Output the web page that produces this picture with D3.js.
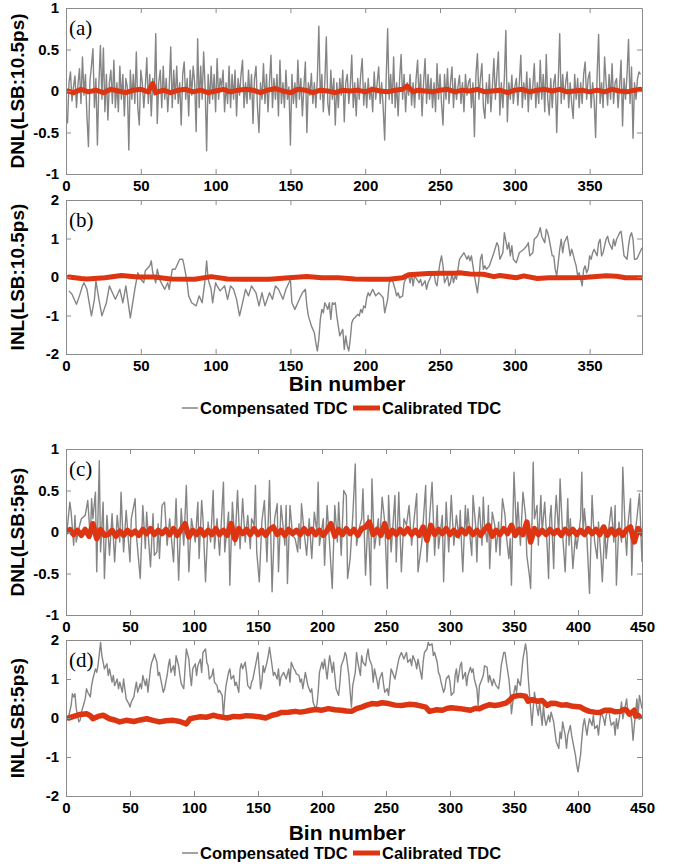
<!DOCTYPE html>
<html>
<head>
<meta charset="utf-8">
<script src="https://cdn.jsdelivr.net/npm/d3@7"></script>
<style>
  body { margin: 0; background: #fff; }
  svg text { font-family: "Liberation Sans", Arial, sans-serif; font-weight: bold; fill: #000; }
</style>
</head>
<body>
<div class="chart"></div>
<script>
// ---- data ----
// x ticks
const ticks385 = [0, 50, 100, 150, 200, 250, 300, 350];
const ticks450 = [0, 50, 100, 150, 200, 250, 300, 350, 400, 450];
const dnlTicks = [-1, -0.5, 0, 0.5, 1];
const inlTicks = [-2, -1, 0, 1, 2];
const seriesNames = ["Compensated TDC", "Calibrated TDC"];

// (a) DNL, 10.5 ps LSB, compensated TDC, one value per bin (bins 1..384)
const dnlA_comp = [-0.39,0.1,0.23,-0.12,0.05,0.18,-0.2,0.08,0.27,-0.15,
0.41,-0.05,0.2,-0.3,-0.67,0.12,0.3,0.51,-0.2,0.15,
-0.65,0.1,0.55,-0.1,0.52,-0.25,0.2,-0.35,0.1,0.25,
-0.15,0.37,-0.2,0.1,-0.25,0.3,-0.1,0.2,-0.3,0.15,
0.05,-0.71,0.25,-0.1,0.2,-0.15,0.47,-0.2,-0.41,0.25,
0.1,-0.2,0.05,0.4,-0.15,0.2,-0.3,0.15,-0.05,0.69,
-0.39,0.1,0.25,-0.2,0.3,-0.1,0.15,-0.25,0.05,0.53,
-0.2,0.25,-0.1,0.3,-0.15,0.1,-0.41,0.2,0.35,-0.1,
0.15,-0.3,0.25,-0.05,0.3,0.1,-0.49,0.63,-0.2,0.3,
-0.1,0.47,0.05,-0.72,0.2,-0.15,0.3,-0.1,0.2,-0.25,
0.39,-0.1,0.15,0.05,0.25,-0.25,0.1,-0.15,0.3,-0.2,
0.2,-0.1,0.25,-0.3,0.15,-0.05,0.2,0.37,-0.2,0.1,
-0.15,0.25,-0.1,0.2,-0.39,0.15,0.3,-0.2,-0.5,0.1,
-0.1,0.33,-0.15,0.2,-0.25,0.1,0.43,-0.2,0.15,-0.1,
0.2,-0.3,0.37,-0.15,0.1,-0.2,0.25,-0.1,0.05,-0.65,
0.2,-0.15,0.1,-0.2,0.37,-0.1,0.15,-0.3,0.05,0.35,
-0.5,0.1,-0.05,0.21,-0.15,0.1,-0.2,0.15,0.78,-0.1,
0.2,-0.25,0.1,0.65,-0.15,-0.29,0.25,-0.1,0.15,-0.41,
0.1,-0.2,0.15,-0.05,0.25,-0.37,0.1,0.2,-0.15,0.05,
0.43,-0.2,0.1,-0.3,0.15,-0.1,0.2,0.39,-0.17,0.1,
-0.2,0.15,-0.1,0.05,-0.25,0.23,-0.1,0.1,0.29,-0.15,
0.1,-0.2,-0.59,0.15,0.75,-0.1,0.2,-0.15,0.41,-0.2,
0.1,-0.3,0.15,0.44,-0.1,0.2,-0.25,0.1,-0.05,0.2,
-0.17,0.1,-0.2,0.15,0.37,-0.1,0.2,-0.3,0.1,0.39,
-0.15,0.2,-0.1,0.15,-0.2,0.1,-0.25,0.33,-0.1,0.2,
-0.15,-0.41,0.2,-0.1,0.27,-0.15,0.1,0.29,-0.2,0.15,
-0.1,0.05,0.19,-0.15,0.1,-0.25,0.2,-0.05,0.1,0.15,
-0.2,0.1,-0.55,0.2,0.45,-0.1,0.15,0.33,-0.2,-0.33,
0.1,-0.15,0.2,-0.25,0.05,0.39,-0.1,0.2,0.47,-0.29,
0.1,-0.2,0.15,0.73,-0.37,0.1,-0.1,0.19,-0.15,0.05,
0.15,-0.17,0.1,0.43,-0.2,0.1,-0.1,0.23,-0.25,0.15,
-0.1,0.05,0.33,-0.2,0.1,-0.15,0.37,-0.1,0.2,-0.25,
0.44,-0.1,-0.29,0.15,-0.2,0.1,0.2,-0.5,0.1,0.69,
-0.15,0.2,-0.1,0.1,0.23,-0.2,0.1,-0.15,-0.33,0.2,
-0.1,0.15,-0.2,0.1,-0.15,0.2,0.35,-0.1,0.15,0.23,
-0.2,0.1,-0.1,-0.56,0.2,0.68,-0.15,0.1,-0.2,0.41,
0.1,-0.17,0.2,-0.1,0.33,-0.15,0.1,0.15,-0.2,0.05,
0.37,-0.42,0.15,-0.1,0.2,0.62,-0.15,0.29,-0.57,0.1,
-0.1,0.15,0.23,0.2];

// (a) DNL calibrated, [bin, value]
const dnlA_cal = [[1,0],[5,-0.02],[10,0.02],[15,-0.01],[20,0.01],[25,-0.02],[30,0.02],[35,0],[40,-0.02],
[45,0.01],[50,0.02],[55,-0.01],[58,0.09],[60,-0.02],[65,0.01],[70,-0.02],[75,0.01],[80,0.02],[85,-0.01],
[90,0.01],[95,-0.02],[100,0],[105,0.02],[110,-0.01],[115,0.01],[120,0.02],[125,0.01],[130,-0.02],[135,0.01],
[140,0.03],[145,0],[150,-0.02],[155,0.02],[160,0.01],[165,-0.02],[170,0.01],[175,0],[180,-0.02],[185,0.01],
[190,0],[195,0.01],[200,-0.01],[205,0.02],[210,0],[215,-0.01],[220,0.01],[225,0.02],[228,0.06],[232,-0.01],
[235,0.01],[240,0],[245,-0.01],[250,0.01],[255,0.02],[260,-0.01],[265,0.01],[270,0],[275,0.02],[280,-0.01],
[285,0],[290,0.01],[295,-0.02],[300,0.01],[305,0.02],[310,-0.01],[315,0.01],[320,0.02],[325,0],[330,0.02],
[335,-0.01],[340,0],[345,0.01],[350,-0.01],[355,0.01],[360,-0.01],[365,0.02],[370,0],[375,-0.01],[380,0.01],[384,0.02]];

// (b) INL, 10.5 ps LSB, compensated, [bin, value]
const inlB_comp = [[2,-0.36],[4,-0.45],[7,-0.71],[9,-0.49],[11,-0.23],[12,-0.15],[14,-0.32],[17,-1.01],[19,-0.58],
[20,-0.1],[22,-0.58],[24,-1.01],[27,-0.67],[29,-0.23],[31,-0.41],[33,-0.58],[36,-0.32],[38,-0.67],[40,-0.23],
[43,-1.06],[46,-0.32],[48,0.11],[50,-0.06],[52,-0.15],[53,0.16],[56,0.29],[57,0.42],[58,0.11],[60,-0.15],
[61,0.2],[63,-0.1],[66,-0.32],[68,-0.15],[69,-0.32],[71,0.2],[73,0.2],[76,0.46],[78,0.46],[79,0.29],[81,-0.15],
[82,-0.49],[84,-0.67],[87,-0.75],[89,-0.49],[91,-0.67],[93,-0.06],[94,0.42],[95,-0.06],[97,-0.32],[98,-0.67],
[100,-0.15],[101,-0.23],[103,-0.36],[106,-0.23],[108,-0.58],[110,-0.23],[112,-0.32],[114,-0.58],[116,-1.01],
[118,-0.67],[120,-0.32],[122,-0.49],[124,-0.23],[127,-0.41],[129,-0.75],[131,-0.41],[133,-0.75],[136,-0.41],
[138,-0.58],[140,-0.23],[142,-0.32],[145,-0.58],[147,-0.32],[149,-0.15],[150,-0.06],[151,-0.67],[153,-0.84],
[156,-0.58],[158,-0.41],[160,-0.32],[161,-0.75],[162,-1.01],[164,-1.27],[166,-1.45],[167,-1.71],[168,-1.92],
[169,-1.62],[170,-1.1],[171,-0.84],[172,-0.93],[173,-0.67],[175,-0.84],[176,-0.67],[177,-1.1],[178,-0.67],
[179,-0.71],[180,-0.67],[181,-1.01],[182,-1.27],[183,-1.53],[185,-1.36],[186,-1.88],[187,-1.53],[188,-1.79],
[189,-1.92],[190,-1.62],[191,-1.19],[192,-1.1],[193,-1.06],[195,-0.97],[196,-1.01],[197,-0.84],[198,-0.93],
[199,-0.75],[200,-0.8],[201,-0.54],[202,-0.41],[203,-0.49],[205,-0.32],[207,-0.49],[209,-0.41],[211,-0.49],
[212,-0.54],[213,-0.93],[215,-0.58],[216,-0.15],[218,-0.06],[220,-0.32],[221,-0.49],[222,-0.41],[223,-0.54],
[225,-0.49],[226,-0.15],[227,-0.06],[229,0.03],[230,-0.15],[231,0.11],[232,-0.23],[233,0.03],[236,-0.15],
[237,-0.06],[238,-0.23],[240,-0.1],[241,-0.32],[242,-0.15],[245,0.11],[246,0.11],[247,-0.15],[248,-0.23],
[249,0.11],[250,0.37],[251,0.55],[252,0.29],[253,-0.15],[255,0.03],[256,-0.23],[257,-0.15],[258,0.11],
[259,-0.15],[260,0.03],[261,-0.06],[263,0.46],[266,0.63],[268,0.46],[269,0.55],[270,0.42],[271,0.55],
[272,0.29],[273,0.03],[275,-0.41],[276,-0.06],[277,0.46],[278,0.59],[279,0.2],[280,0.29],[281,0.2],[283,0.29],
[286,0.63],[288,0.89],[289,0.81],[290,0.46],[292,0.63],[293,1.15],[295,0.72],[296,0.89],[297,0.55],[298,0.81],
[299,0.46],[301,0.37],[303,0.63],[306,0.72],[308,0.81],[309,0.89],[310,0.55],[312,0.63],[313,0.98],[315,1.06],
[316,1.15],[317,1.28],[318,1.06],[320,0.89],[321,1.24],[322,1.15],[323,0.98],[325,0.55],[326,0.55],[327,0.2],
[328,0.03],[329,0.37],[330,0.72],[331,0.98],[332,0.63],[333,0.89],[335,1.06],[336,0.81],[337,0.55],[338,0.72],
[339,0.59],[340,0.42],[341,0.29],[342,0.03],[343,0.11],[345,-0.23],[346,0.2],[347,0.29],[348,0.11],[349,0.2],
[350,0.55],[351,0.46],[352,0.63],[353,0.72],[355,0.55],[356,0.89],[357,0.98],[358,0.55],[359,0.63],[360,0.81],
[361,0.98],[362,1.06],[363,0.89],[365,0.72],[366,0.98],[367,0.81],[368,0.98],[369,1.06],[370,1.15],[371,1.19],
[372,0.89],[373,0.55],[375,0.46],[376,0.81],[377,1.06],[378,1.15],[379,0.98],[380,0.46],[381,0.46],[382,0.5],
[383,0.59],[385,0.76]];

// (b) INL calibrated
const inlB_cal = [[2,0],[10,-0.04],[14,-0.05],[26,-0.02],[37,0.04],[48,0],[59,0],[70,-0.05],[86,-0.06],
[97,0.01],[108,-0.05],[119,-0.06],[130,-0.06],[136,-0.06],[149,-0.02],[161,0.01],[171,-0.02],[182,-0.02],
[193,-0.05],[204,-0.06],[216,-0.06],[225,-0.02],[229,0.06],[242,0.09],[251,0.1],[260,0.1],[263,0.11],
[270,0.08],[279,0.07],[286,0.01],[290,0.04],[301,-0.02],[306,0.03],[315,-0.04],[323,-0.02],[334,-0.02],
[346,-0.01],[361,0.03],[368,0.02],[374,-0.02],[385,-0.02]];

// (c) DNL, 5 ps LSB, compensated
const dnlC_comp = [[1,0.05],[3,0.36],[4,0.24],[6,-0.16],[7,0.2],[8,-0.12],[10,0.04],[12,0.16],[15,0.2],[17,0.38],
[19,-0.08],[20,0.4],[21,0.16],[23,0.48],[24,-0.48],[26,0.86],[27,-0.24],[29,0.36],[30,-0.56],[32,0.2],[34,-0.28],
[36,0.22],[38,-0.36],[40,0.2],[42,-0.12],[43,0.48],[45,-0.24],[47,0.26],[50,-0.36],[51,0.16],[54,0.4],[55,-0.04],
[58,-0.56],[60,0.32],[62,-0.2],[63,0.24],[66,-0.42],[68,0.22],[69,-0.28],[71,-0.24],[72,0.1],[73,-0.32],[75,0.32],
[77,0.36],[79,-0.16],[81,0.16],[84,-0.36],[86,0.4],[88,-0.58],[90,0.28],[92,-0.16],[94,0.56],[96,-0.48],[98,0.16],
[101,-0.12],[103,0.36],[104,-0.32],[106,0.38],[107,0.16],[109,-0.6],[111,0.12],[113,-0.12],[115,0.5],[116,-0.2],
[118,0.16],[120,-0.28],[123,0.6],[124,-0.24],[127,0.24],[128,-0.64],[130,0.36],[132,-0.16],[134,0.5],[136,-0.2],
[138,0.4],[140,-0.12],[142,0.2],[144,-0.2],[145,0.16],[147,0.08],[148,0.56],[149,-0.24],[151,-0.6],[153,0.12],
[155,0.38],[157,-0.36],[159,0.62],[161,-0.72],[163,0.16],[165,0.34],[166,-0.48],[168,0.32],[171,-0.16],[172,0.32],
[173,-0.62],[175,0.32],[177,-0.04],[179,-0.08],[181,-0.24],[182,0.1],[183,-0.2],[184,0.34],[186,0],[188,-0.28],
[190,0.16],[192,-0.32],[194,0.24],[196,0],[197,0.6],[198,-0.16],[201,0.16],[202,-0.4],[204,0.32],[206,-0.16],
[208,-0.68],[210,0.32],[212,-0.12],[213,0.36],[215,-0.28],[217,0.5],[219,0.44],[220,-0.56],[222,-0.32],[224,0.18],
[226,0.82],[227,-0.16],[229,0.04],[231,0.16],[232,0.52],[234,-0.52],[236,0.2],[238,-0.64],[239,0.64],[241,-0.2],
[244,0.16],[245,-0.16],[247,0.42],[249,0.12],[251,-0.68],[252,0.44],[254,-0.24],[257,0.44],[258,-0.36],[260,0.48],
[262,-0.48],[264,0.16],[266,0.08],[268,0.32],[270,-0.16],[272,0.16],[274,0.46],[275,-0.48],[278,-0.12],[281,0.56],
[282,-0.36],[284,0.16],[286,0.6],[288,-0.28],[290,0.32],[291,-0.2],[294,0.2],[295,-0.6],[297,0.36],[299,-0.24],
[301,0.44],[303,-0.16],[305,0.2],[307,-0.08],[308,0.26],[309,-0.16],[310,-0.48],[312,0.32],[313,-0.04],[314,0.28],
[316,-0.12],[317,-0.28],[318,0.44],[320,0.08],[321,-0.36],[322,0.12],[323,0.3],[325,-0.16],[326,0.42],[327,0.08],
[329,-0.12],[330,0.32],[331,-0.44],[333,0.24],[335,0.08],[336,-0.24],[338,0.12],[339,-0.28],[341,0.4],[343,0.2],
[344,-0.04],[346,-0.32],[347,-0.08],[348,-0.64],[350,0.72],[352,-0.04],[353,0.36],[355,-0.16],[357,0.48],[359,0.2],
[360,-0.28],[362,-0.52],[363,-0.68],[365,0.84],[366,0.16],[368,0.32],[369,-0.16],[371,0.44],[372,0],[374,0.36],
[376,-0.2],[377,-0.56],[378,0.16],[379,0.32],[381,-0.44],[382,0.16],[383,0.44],[385,-0.04],[386,0.64],[388,-0.04],
[390,-0.48],[392,0.4],[393,-0.16],[394,0.16],[396,-0.44],[398,-0.04],[399,-0.2],[402,0.16],[403,0.72],[404,-0.04],
[405,0.28],[407,-0.08],[409,-0.74],[411,0.44],[412,0.12],[413,-0.12],[415,-0.32],[416,0.12],[418,-0.32],[419,-0.6],
[421,0.08],[422,-0.32],[424,0.04],[426,0.3],[428,-0.12],[429,0.32],[430,-0.64],[432,0.12],[434,-0.12],[435,0.78],
[437,-0.04],[438,-0.28],[439,0.08],[441,0.4],[442,-0.52],[443,-0.04],[445,0.04],[446,0.16],[448,0.46],[450,-0.36]];

// (c) DNL calibrated, one value every 3 bins (bins 0, 3, ..., 450)
const dnlC_cal = [0,0.03,-0.03,0.02,-0.04,0.03,-0.05,0.1,-0.08,0.03,
-0.04,-0.03,0.02,-0.05,0.01,-0.04,0.02,-0.03,0.01,-0.04,
0.03,-0.02,0.04,-0.03,0.02,-0.02,0.03,-0.03,0.04,-0.04,
0.03,0.1,-0.06,0.02,-0.03,0.03,-0.04,0.02,-0.03,0.04,
-0.03,0.02,-0.04,0.1,-0.09,0.04,-0.02,0.03,-0.03,0.04,
-0.03,0.02,-0.04,0.03,0.06,-0.03,0.02,-0.04,0.03,-0.02,
0.02,-0.03,0.04,-0.02,0.03,-0.03,0.02,-0.04,0.02,0.1,
-0.05,0.03,-0.03,0.04,-0.02,0.03,-0.04,0.04,0.06,0.12,
-0.03,0.03,-0.04,0.1,-0.06,0.02,-0.03,0.03,-0.02,0.04,
-0.03,0.02,-0.04,0.06,-0.1,0.08,-0.03,0.03,-0.02,0.04,
-0.03,0.02,-0.04,0.03,-0.02,0.04,-0.03,0.02,-0.04,0.03,
0.08,-0.05,0.02,-0.03,0.04,-0.02,0.08,-0.04,0.03,-0.03,
0.12,-0.12,0.04,-0.03,0.02,-0.03,0.03,-0.02,0.02,-0.04,
0.03,-0.02,0.03,-0.03,0.02,-0.03,0.04,-0.02,0.03,-0.03,
0.06,-0.04,0.03,-0.03,0.02,-0.04,0.03,0.06,-0.12,0.04,
-0.02];

// (d) INL, 5 ps LSB, compensated
const inlD_comp = [[2,0.03],[4,0.32],[5,0.62],[6,0.54],[7,0.62],[8,0.24],[10,-0.1],[11,-0.06],[12,0.15],[14,0.37],
[15,0.49],[16,0.75],[17,0.66],[19,0.54],[20,0.83],[21,1.0],[23,1.26],[24,1.17],[25,1.34],[27,1.94],[28,1.6],
[29,1.43],[30,1.26],[32,1.39],[33,1.09],[34,1.26],[36,0.92],[37,1.09],[38,0.83],[40,1.0],[41,0.75],[42,0.92],
[44,0.66],[45,1.0],[46,0.75],[47,0.49],[49,0.37],[50,0.28],[51,0.41],[53,0.54],[54,0.75],[55,0.92],[56,0.66],
[58,0.88],[59,0.75],[60,1.09],[62,0.83],[63,1.0],[64,0.66],[66,1.26],[67,1.43],[68,1.51],[69,1.64],[71,1.43],
[72,1.09],[73,1.17],[75,0.83],[76,0.66],[77,0.75],[79,1.09],[80,1.34],[81,1.51],[82,1.17],[84,1.34],[85,1.09],
[86,1.6],[88,1.34],[89,1.09],[90,0.88],[92,0.75],[93,1.26],[94,1.77],[96,1.51],[97,1.09],[98,0.83],[99,1.26],
[101,1.39],[102,1.09],[103,1.34],[105,1.51],[106,1.17],[107,1.68],[109,1.77],[110,1.43],[111,1.34],[112,1.0],
[114,1.09],[115,1.26],[116,0.92],[118,0.83],[119,0.66],[120,0.71],[122,0.58],[123,0.03],[124,0.49],[125,0.83],
[127,1.17],[128,1.26],[129,1.0],[131,1.09],[132,0.83],[133,0.92],[135,0.66],[136,1.26],[137,1.39],[138,1.26],
[140,1.43],[141,1.17],[142,0.83],[144,0.75],[145,0.92],[146,1.0],[147,1.17],[149,1.51],[150,1.68],[152,0.75],
[153,0.92],[154,1.34],[155,1.17],[157,1.43],[158,1.6],[159,1.81],[161,1.34],[162,1.09],[163,1.17],[165,1.0],
[166,1.26],[167,0.83],[168,1.05],[170,1.17],[171,1.09],[172,1.0],[174,1.26],[175,0.92],[176,1.43],[178,1.26],
[179,1.22],[180,1.13],[182,1.09],[183,0.92],[184,1.0],[185,0.75],[187,1.17],[188,1.0],[189,0.83],[191,0.66],
[192,0.75],[193,0.41],[195,0.24],[196,0.32],[197,0.66],[198,1.17],[200,1.43],[201,1.26],[202,1.51],[204,1.0],
[205,1.34],[206,1.6],[208,1.17],[209,1.43],[210,1.09],[211,0.75],[213,0.58],[214,0.92],[215,1.34],[217,1.51],
[218,1.68],[219,1.6],[221,1.09],[222,0.66],[223,0.28],[224,0.83],[226,1.17],[227,1.68],[228,1.43],[230,1.09],
[231,1.6],[232,1.43],[234,1.34],[235,1.6],[236,1.77],[237,1.51],[239,1.34],[240,0.92],[241,1.26],[243,0.96],
[244,0.75],[245,1.0],[247,1.17],[248,0.88],[249,0.66],[251,0.75],[252,0.58],[253,0.92],[254,1.26],[256,1.09],
[257,1.0],[258,1.17],[260,1.51],[261,1.6],[262,1.68],[264,1.51],[265,1.6],[266,1.68],[267,1.43],[269,1.51],
[270,1.34],[271,1.6],[273,1.43],[274,1.26],[275,1.51],[277,1.17],[278,1.0],[279,1.43],[280,1.68],[282,1.77],
[283,1.94],[284,1.86],[286,1.9],[287,1.6],[288,1.68],[290,1.43],[291,1.17],[292,1.09],[293,0.92],[295,0.66],
[296,0.75],[297,1.0],[299,1.09],[300,0.92],[301,0.58],[303,0.66],[304,1.09],[305,1.26],[306,0.92],[308,1.34],
[309,1.43],[310,1.0],[312,1.17],[313,0.83],[314,1.09],[316,1.3],[317,1.17],[318,1.26],[319,1.0],[321,0.75],
[322,0.32],[323,0.83],[325,1.0],[326,1.09],[327,1.34],[329,1.3],[330,0.92],[331,1.09],[333,0.83],[334,1.0],
[335,0.92],[336,0.83],[338,0.75],[339,1.0],[340,1.34],[342,1.68],[343,1.68],[344,1.43],[346,1.0],[347,0.66],
[348,0.11],[350,0.66],[351,0.83],[352,0.66],[353,1.0],[355,0.83],[356,1.17],[357,1.51],[359,1.9],[360,1.68],
[361,1.09],[362,0.66],[364,-0.19],[365,0.24],[366,0.66],[368,0.24],[369,0.07],[370,0.41],[372,-0.19],[373,0.32],
[374,-0.02],[375,-0.19],[377,0.07],[378,-0.1],[379,0.15],[381,-0.1],[382,-0.36],[383,-0.61],[385,-0.78],
[386,-0.36],[387,-0.53],[388,-0.1],[390,-0.44],[391,-0.78],[392,-0.44],[394,-0.19],[395,-0.44],[396,-0.61],
[398,-0.95],[399,-1.21],[400,-1.38],[402,-0.95],[403,-0.53],[404,-0.19],[405,-0.02],[407,-0.44],[408,-0.19],
[409,-0.02],[411,-0.19],[412,0.07],[413,-0.27],[415,-0.19],[416,-0.44],[417,-0.1],[418,0.15],[420,-0.02],
[421,-0.19],[422,0.07],[424,0.24],[425,-0.02],[426,-0.19],[428,-0.1],[429,-0.44],[430,-0.02],[431,-0.27],
[433,0.15],[434,0.41],[435,-0.02],[437,0.32],[438,0.49],[439,0.07],[441,0.15],[442,-0.1],[443,-0.57],[444,-0.19],
[446,0.49],[447,0.07],[448,0.58],[450,0.24]];

// (d) INL calibrated
const inlD_cal = [[2,0],[6,0.04],[11,0.09],[16,0.11],[19,0.06],[21,-0.02],[25,0.04],[29,0.07],[34,-0.02],
[38,-0.05],[42,-0.1],[47,-0.06],[53,-0.09],[58,-0.05],[63,-0.02],[68,-0.06],[73,-0.1],[78,-0.07],[84,-0.06],
[89,-0.09],[94,-0.15],[97,-0.02],[101,0.01],[105,0.03],[110,0.02],[115,0.07],[120,0.03],[126,0],[131,0.04],
[136,0.03],[141,0.06],[146,0.05],[151,0.03],[156,0],[161,0.07],[165,0.1],[168,0.14],[174,0.15],[179,0.17],
[183,0.15],[187,0.17],[191,0.2],[195,0.22],[200,0.2],[205,0.24],[210,0.21],[215,0.2],[219,0.18],[223,0.17],
[227,0.24],[231,0.28],[235,0.33],[239,0.37],[243,0.36],[247,0.39],[252,0.37],[257,0.33],[262,0.32],[268,0.35],
[273,0.34],[277,0.31],[281,0.28],[284,0.17],[289,0.21],[294,0.2],[298,0.25],[301,0.26],[308,0.24],[312,0.22],
[316,0.2],[320,0.25],[323,0.24],[327,0.3],[331,0.34],[335,0.32],[339,0.34],[344,0.39],[347,0.47],[349,0.54],
[352,0.57],[355,0.58],[359,0.56],[361,0.43],[364,0.47],[368,0.43],[372,0.45],[376,0.32],[379,0.38],[383,0.37],
[387,0.33],[391,0.34],[396,0.3],[402,0.28],[405,0.22],[409,0.17],[413,0.15],[417,0.14],[421,0.2],[425,0.2],
[429,0.16],[433,0.17],[436,0.22],[438,0.2],[440,0.1],[442,0.14],[444,0.2],[445,0.05],[447,0.07],[448,0.03]];

// ---- drawing ----
const W = 674, H = 864;
const GRAY = "#858585", RED = "#dd3511", AXIS = "#8c8c8c";

const svg = d3.select(".chart").append("svg")
  .attr("width", W).attr("height", H);

const panels = [
  { tag: "(a)", title: "DNL(LSB:10.5ps)", top: 8, bottom: 174, xMax: 385, xTicks: ticks385,
    yDom: [-1, 1], yTicks: dnlTicks,
    comp: dnlA_comp.map((v, i) => [i + 1, v]), cal: dnlA_cal, calWidth: 5 },
  { tag: "(b)", title: "INL(LSB:10.5ps)", top: 200, bottom: 354, xMax: 385, xTicks: ticks385,
    yDom: [-2, 2], yTicks: inlTicks, comp: inlB_comp, cal: inlB_cal, calWidth: 5 },
  { tag: "(c)", title: "DNL(LSB:5ps)", top: 449, bottom: 615, xMax: 450, xTicks: ticks450,
    yDom: [-1, 1], yTicks: dnlTicks,
    comp: dnlC_comp, cal: dnlC_cal.map((v, i) => [i * 3, v]), calWidth: 5.5 },
  { tag: "(d)", title: "INL(LSB:5ps)", top: 640, bottom: 796, xMax: 450, xTicks: ticks450,
    yDom: [-2, 2], yTicks: inlTicks, comp: inlD_comp, cal: inlD_cal, calWidth: 5.5 }
];

const left = 66, right = 642;

panels.forEach((p, k) => {
  const x = d3.scaleLinear().domain([0, p.xMax]).range([left, right]);
  const y = d3.scaleLinear().domain(p.yDom).range([p.bottom, p.top]);
  const g = svg.append("g");

  g.append("clipPath").attr("id", "clip" + k)
    .append("rect").attr("x", left).attr("y", p.top)
    .attr("width", right - left).attr("height", p.bottom - p.top);

  const line = d3.line().x(d => x(d[0])).y(d => y(d[1]));
  const plot = g.append("g").attr("clip-path", `url(#clip${k})`);

  plot.append("path").datum(p.comp)
    .attr("fill", "none").attr("stroke", GRAY).attr("stroke-width", 1.4)
    .attr("stroke-linejoin", "round").attr("d", line);

  plot.append("path").datum(p.cal)
    .attr("fill", "none").attr("stroke", RED).attr("stroke-width", p.calWidth)
    .attr("stroke-linejoin", "round").attr("stroke-linecap", "round").attr("d", line);

  // axes (ticks point inward, box on all four sides)
  const fmt = d => String(d);
  const bottomAx = g.append("g").attr("transform", `translate(0,${p.bottom})`)
    .call(d3.axisBottom(x).tickValues(p.xTicks).tickSize(-5).tickSizeOuter(0).tickPadding(6).tickFormat(fmt));
  const leftAx = g.append("g").attr("transform", `translate(${left},0)`)
    .call(d3.axisLeft(y).tickValues(p.yTicks).tickSize(-5).tickSizeOuter(0).tickPadding(7).tickFormat(fmt));
  const topAx = g.append("g").attr("transform", `translate(0,${p.top})`)
    .call(d3.axisTop(x).tickValues(p.xTicks).tickSize(-5).tickSizeOuter(0).tickFormat(""));
  const rightAx = g.append("g").attr("transform", `translate(${right},0)`)
    .call(d3.axisRight(y).tickValues(p.yTicks).tickSize(-5).tickSizeOuter(0).tickFormat(""));

  [bottomAx, leftAx, topAx, rightAx].forEach(a => {
    a.select(".domain").attr("stroke", AXIS);
    a.selectAll(".tick line").attr("stroke", AXIS);
    a.selectAll(".tick text")
      .style("font-family", '"Liberation Sans", Arial, sans-serif')
      .style("font-weight", "bold").style("font-size", "15px").attr("fill", "#000");
  });

  // y title
  g.append("text")
    .attr("transform", `translate(24,${(p.top + p.bottom) / 2}) rotate(-90)`)
    .attr("text-anchor", "middle").style("font-size", "19px")
    .text(p.title);

  // panel tag
  g.append("text")
    .attr("x", 69).attr("y", p.top + 27)
    .style("font-family", '"Liberation Serif", "Times New Roman", serif')
    .style("font-weight", "normal").style("font-size", "21px")
    .text(p.tag);
});

// x title + legend below (b) and (d)
[{ title: 391, leg: 408 }, { title: 840, leg: 853 }].forEach(f => {
  svg.append("text").attr("x", 347).attr("y", f.title)
    .attr("text-anchor", "middle").style("font-size", "21px").text("Bin number");

  const lg = svg.append("g");
  lg.append("line").attr("x1", 182).attr("x2", 198).attr("y1", f.leg).attr("y2", f.leg)
    .attr("stroke", GRAY).attr("stroke-width", 1.5);
  lg.append("text").attr("x", 200).attr("y", f.leg + 6)
    .style("font-size", "16.5px").text(seriesNames[0]);
  lg.append("line").attr("x1", 353).attr("x2", 380).attr("y1", f.leg).attr("y2", f.leg)
    .attr("stroke", RED).attr("stroke-width", 5);
  lg.append("text").attr("x", 382).attr("y", f.leg + 6)
    .style("font-size", "16.5px").text(seriesNames[1]);
});
</script>
</body>
</html>
